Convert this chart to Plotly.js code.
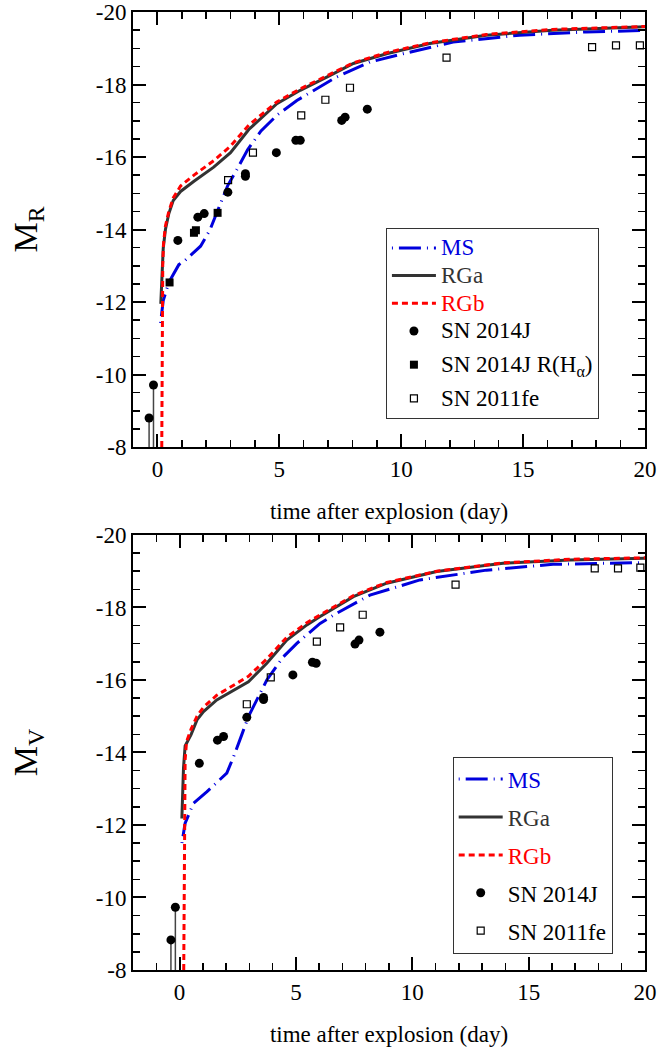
<!DOCTYPE html>
<html>
<head>
<meta charset="utf-8">
<script src="https://cdn.plot.ly/plotly-3.0.1.min.js"></script>
<style>html,body{margin:0;padding:0;background:#fff;}</style>
</head>
<body>
<div id="chart" style="width:657px;height:1053px;"></div>
<script>
// ---------- R band (top panel) ----------
const msR_x = [0.13, 0.24, 0.47, 0.88, 1.09, 1.77, 2.15, 2.52, 2.89, 3.24, 3.7, 4.25, 4.9, 5.72, 6.54, 7.36, 8.72, 10.08, 12.13, 14.85, 17.58, 20];
const msR_y = [-11.42, -12.04, -12.54, -13.03, -13.12, -13.54, -13.98, -14.58, -15.22, -15.63, -16.2, -16.72, -17.15, -17.56, -17.89, -18.21, -18.62, -18.85, -19.17, -19.36, -19.45, -19.49];
const rgaR_x = [0.14, 0.18, 0.24, 0.33, 0.47, 0.65, 0.95, 1.5, 2.31, 3.0, 3.75, 4.9, 5.86, 7.09, 8.04, 9.4, 11.17, 13.49, 16.2, 20];
const rgaR_y = [-11.95, -12.8, -13.48, -14.0, -14.44, -14.8, -15.05, -15.33, -15.72, -16.12, -16.76, -17.47, -17.84, -18.25, -18.58, -18.85, -19.13, -19.36, -19.5, -19.59];
const rgbR_x = [0.18, 0.19, 0.2, 0.22, 0.25, 0.33, 0.47, 0.65, 0.95, 1.5, 2.31, 3.0, 3.75, 4.9, 5.86, 7.09, 8.04, 9.4, 11.17, 13.49, 16.2, 20];
const rgbR_y = [-8, -10, -12, -13, -13.6, -14.1, -14.5, -14.87, -15.2, -15.5, -15.9, -16.3, -16.88, -17.52, -17.88, -18.28, -18.6, -18.88, -19.15, -19.38, -19.52, -19.6];
const sn14jR_x = [-0.34, -0.16, 0.84, 1.66, 1.92, 2.89, 3.61, 3.61, 4.88, 5.68, 5.86, 7.56, 7.70, 8.61];
const sn14jR_y = [-8.8, -9.71, -13.70, -14.34, -14.44, -15.03, -15.54, -15.47, -16.12, -16.46, -16.46, -17.01, -17.10, -17.32];
const sn14jR_stem = [true, true, false, false, false, false, false, false, false, false, false, false, false, false];
const sn14jHa_x = [0.5, 1.5, 1.58, 2.47];
const sn14jHa_y = [-12.54, -13.91, -13.98, -14.46];
const sn11feR_x = [2.9, 3.92, 5.9, 6.89, 7.9, 11.86, 17.83, 18.81, 19.79];
const sn11feR_y = [-15.36, -16.12, -17.15, -17.58, -17.91, -18.74, -19.03, -19.08, -19.08];

// ---------- V band (bottom panel) ----------
const msV_x = [0.1, 0.24, 0.6, 1.18, 2.03, 2.32, 2.68, 2.96, 3.39, 3.75, 4.46, 5.04, 6.04, 6.75, 8.18, 10.33, 13.19, 16.05, 20];
const msV_y = [-11.5, -12.05, -12.6, -12.92, -13.43, -13.88, -14.5, -14.99, -15.54, -16.0, -16.64, -17.01, -17.56, -17.84, -18.34, -18.76, -19.03, -19.19, -19.24];
const rgaV_x = [0.1, 0.14, 0.17, 0.24, 0.5, 0.75, 1.03, 1.6, 2.32, 2.96, 3.75, 4.61, 5.47, 6.04, 7.47, 8.9, 11.05, 13.9, 16.77, 20];
const rgaV_y = [-12.18, -13.0, -13.57, -14.18, -14.5, -14.9, -15.13, -15.45, -15.72, -15.95, -16.46, -17.1, -17.52, -17.75, -18.3, -18.67, -18.99, -19.22, -19.31, -19.36];
const rgbV_x = [0.18, 0.19, 0.2, 0.21, 0.24, 0.3, 0.5, 0.75, 1.03, 1.6, 2.32, 2.96, 3.75, 4.61, 5.47, 6.04, 7.47, 8.9, 11.05, 13.9, 16.77, 20];
const rgbV_y = [-8, -10, -12, -13, -13.8, -14.3, -14.65, -15.0, -15.25, -15.58, -15.85, -16.1, -16.58, -17.18, -17.58, -17.8, -18.33, -18.69, -19.0, -19.23, -19.33, -19.37];
const sn14jV_x = [-0.37, -0.18, 0.85, 1.63, 1.89, 2.89, 3.61, 3.61, 4.87, 5.71, 5.87, 7.54, 7.71, 8.61];
const sn14jV_y = [-8.83, -9.73, -13.70, -14.34, -14.44, -14.97, -15.46, -15.52, -16.14, -16.49, -16.46, -16.99, -17.10, -17.32];
const sn14jV_stem = [true, true, false, false, false, false, false, false, false, false, false, false, false, false];
const sn11feV_x = [2.89, 3.92, 5.9, 6.9, 7.87, 11.86, 17.84, 18.84, 19.8];
const sn11feV_y = [-15.33, -16.07, -17.06, -17.45, -17.80, -18.63, -19.08, -19.08, -19.10];

// ---------- ticks ----------
const xTickVals = [0, 5, 10, 15, 20];
const xTickText = ['0', '5', '10', '15', '20'];
const yTickVals = [-20, -18, -16, -14, -12, -10, -8];
const yTickText = ['-20', '-18', '-16', '-14', '-12', '-10', '-8'];
const yBottom = -8;

const FONT = '"Liberation Serif", "Times New Roman", Times, serif';
const MS_DASH = '1px,6px,22px,6px';
const RGB_DASH = '6px,4px';

function stems(ys, flags) {
  return ys.map((v, i) => flags[i] ? (yBottom - v) : 0);
}
function lab(text, color) {
  return '<span style="font-size:23px;color:' + color + '">' + text + '</span>';
}

function panel(xa, ya, leg, d, groups) {
  const out = [];
  out.push({x: d.msx, y: d.msy, xaxis: xa, yaxis: ya, mode: 'lines', name: lab('MS', '#0000dd'),
    line: {color: '#0000dd', width: 3, dash: MS_DASH}, legend: leg, legendgroup: groups[0]});
  out.push({x: d.rgax, y: d.rgay, xaxis: xa, yaxis: ya, mode: 'lines', name: lab('RGa', '#333333'),
    line: {color: '#333333', width: 3}, legend: leg, legendgroup: groups[1]});
  out.push({x: d.rgbx, y: d.rgby, xaxis: xa, yaxis: ya, mode: 'lines', name: lab('RGb', '#ff0000'),
    line: {color: '#ff0000', width: 3, dash: RGB_DASH}, legend: leg, legendgroup: groups[2]});
  out.push({x: d.snx, y: d.sny, xaxis: xa, yaxis: ya, mode: 'markers', name: lab('SN 2014J', '#000'),
    marker: {symbol: 'circle', size: 9, color: '#000'},
    error_y: {type: 'data', symmetric: false, array: stems(d.sny, d.stem), arrayminus: d.sny.map(() => 0), width: 0, thickness: 1.5, color: '#444'},
    legend: leg, legendgroup: groups[3]});
  if (d.hax) {
    out.push({x: d.hax, y: d.hay, xaxis: xa, yaxis: ya, mode: 'markers', name: lab('SN 2014J R(H<sub>α</sub>)', '#000'),
      marker: {symbol: 'square', size: 8, color: '#000'}, legend: leg, legendgroup: groups[4]});
  }
  out.push({x: d.fex, y: d.fey, xaxis: xa, yaxis: ya, mode: 'markers', name: lab('SN 2011fe', '#000'),
    marker: {symbol: 'square-open', size: 7, color: '#000', line: {width: 1.2, color: '#000'}}, legend: leg, legendgroup: groups[5]});
  return out;
}

const traces = [].concat(
  panel('x', 'y', 'legend', {msx: msR_x, msy: msR_y, rgax: rgaR_x, rgay: rgaR_y, rgbx: rgbR_x, rgby: rgbR_y,
    snx: sn14jR_x, sny: sn14jR_y, stem: sn14jR_stem, hax: sn14jHa_x, hay: sn14jHa_y, fex: sn11feR_x, fey: sn11feR_y},
    ['t1', 't1', 't1', 't1', 't2', 't3']),
  panel('x2', 'y2', 'legend2', {msx: msV_x, msy: msV_y, rgax: rgaV_x, rgay: rgaV_y, rgbx: rgbV_x, rgby: rgbV_y,
    snx: sn14jV_x, sny: sn14jV_y, stem: sn14jV_stem, fex: sn11feV_x, fey: sn11feV_y},
    ['b1', 'b2', 'b3', 'b4', 'b5', 'b6'])
);

function xax(range, anchor) {
  return {
    anchor: anchor, domain: [0, 1], range: range,
    tickmode: 'array', tickvals: xTickVals, ticktext: xTickText,
    ticks: 'inside', ticklen: 13, tickwidth: 2, tickcolor: '#000',
    minor: {tickmode: 'linear', tick0: 0, dtick: 1, ticks: 'inside', ticklen: 7, tickwidth: 1.5, tickcolor: '#000'},
    showline: true, linewidth: 2, linecolor: '#000', mirror: 'allticks',
    showgrid: false, zeroline: false,
    tickfont: {family: FONT, size: 23, color: '#000'},
    title: {text: 'time after explosion (day)', font: {family: FONT, size: 23, color: '#000'}, standoff: 22}
  };
}
function yax(domain, anchor, title) {
  return {
    anchor: anchor, domain: domain, range: [-8, -20],
    tickmode: 'array', tickvals: yTickVals, ticktext: yTickText,
    ticks: 'inside', ticklen: 13, tickwidth: 2, tickcolor: '#000',
    minor: {tickmode: 'linear', tick0: 0, dtick: 0.5, ticks: 'inside', ticklen: 7, tickwidth: 1.5, tickcolor: '#000'},
    showline: true, linewidth: 2, linecolor: '#000', mirror: 'allticks',
    showgrid: false, zeroline: false,
    tickfont: {family: FONT, size: 23, color: '#000'},
    title: {text: title, font: {family: FONT, size: 34, color: '#000'}, standoff: 48}
  };
}

const legendBase = {
  xanchor: 'left', yanchor: 'top', bgcolor: '#fff', bordercolor: '#333', borderwidth: 1,
  itemwidth: 44, traceorder: 'grouped'
};

const layout = {
  width: 657, height: 1053,
  margin: {l: 133, r: 12, t: 12, b: 83},
  paper_bgcolor: '#fff', plot_bgcolor: '#fff',
  showlegend: true,
  xaxis: xax([-1, 20], 'y'),
  yaxis: yax([0.5459, 1], 'x', 'M<sub>R</sub>'),
  xaxis2: xax([-2, 20], 'y2'),
  yaxis2: yax([0, 0.4541], 'x2', 'M<sub>V</sub>'),
  legend: Object.assign({}, legendBase, {x: 0.494, y: 0.7745, tracegroupgap: 6,
    font: {family: FONT, size: 19, color: '#000'}}),
  legend2: Object.assign({}, legendBase, {x: 0.6244, y: 0.2227, tracegroupgap: 5,
    font: {family: FONT, size: 23, color: '#000'}})
};

Plotly.newPlot('chart', traces, layout, {displayModeBar: false, staticPlot: true});
</script>
</body>
</html>
